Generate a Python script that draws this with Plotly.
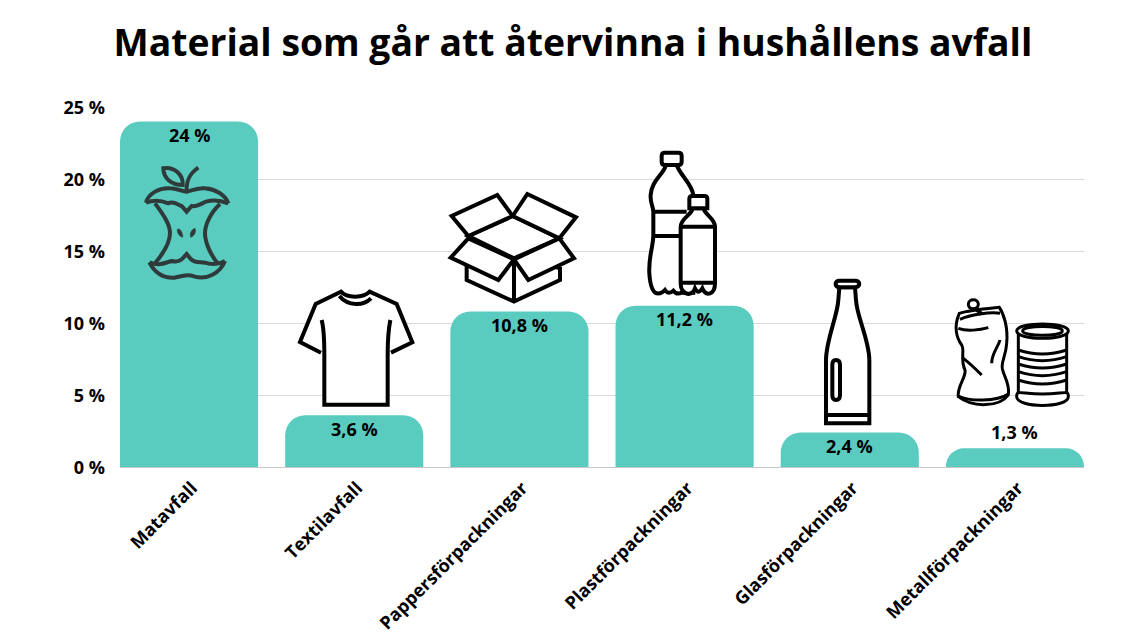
import re
import plotly.graph_objects as go

categories = ["Matavfall", "Textilavfall", "Pappersförpackningar", "Plastförpackningar", "Glasförpackningar", "Metallförpackningar"]
values = [24, 3.6, 10.8, 11.2, 2.4, 1.3]
value_labels = ["24 %", "3,6 %", "10,8 %", "11,2 %", "2,4 %", "1,3 %"]
label_above = [False, False, False, False, False, True]
y_ticks = [0, 5, 10, 15, 20, 25]
y_tick_labels = ["0 %", "5 %", "10 %", "15 %", "20 %", "25 %"]
title_text = "Material som går att återvinna i hushållens avfall"
FONT = "Open Sans"

L, T, W, H = 120, 107, 964, 360


def conv(path, ox, oy):
    nums = iter(re.findall(r"[A-Za-z]|-?\d+\.?\d*", path))
    out, isx = [], True
    for tok in nums:
        if tok.isalpha():
            out.append(tok)
            isx = True
        else:
            v = float(tok)
            if isx:
                out.append(f"{(ox + v / 3 - L) / W:.5f},")
            else:
                out.append(f"{(T + H - (oy + v / 3)) / H:.5f} ")
            isx = not isx
    return "".join(out)


shapes = []


def icon(origin, path, color="#000", lw=4, fill=None):
    shapes.append(dict(type="path", xref="paper", yref="paper", layer="above",
                       path=conv(path, *origin),
                       line=dict(color=color, width=lw) if lw else dict(width=0),
                       fillcolor=fill if fill else "rgba(0,0,0,0)"))


# apple core
A = (120, 110)
AC = "#2f3a3a"
for p in [
    "M78,278 C85,250 120,232 150,235 C170,236 185,243 200,245 C215,243 235,232 255,235 C285,238 315,252 325,280",
    "M78,278 C105,268 125,272 145,280 C160,272 175,285 185,288 L200,305 L215,288 C230,292 245,280 258,275 C280,268 305,272 325,280",
    "M105,280 C135,320 150,345 150,370 C150,400 130,430 105,460",
    "M300,282 C270,310 255,345 255,370 C255,400 275,440 295,462",
    "M88,457 C115,470 135,458 155,453 C170,458 185,450 188,445 L200,432 L212,447 C225,460 240,455 255,458 C275,465 300,462 315,453",
    "M88,457 C105,490 130,505 165,503 C185,498 200,492 225,500 C260,510 300,490 315,453",
    "M200,245 C198,210 210,190 235,173",
    "M130,175 C165,170 190,195 188,225 C155,225 130,205 130,175 Z",
]:
    icon(A, p, AC, 4)
icon(A, "M172,358 C180,352 190,370 188,382 C178,380 170,368 172,358 Z", AC, 0.5, AC)
icon(A, "M225,355 C230,365 222,380 212,382 C208,370 215,358 225,355 Z", AC, 0.5, AC)

# t-shirt
S = (285, 280)
icon(S, "M108,218 L45,186 L92,72 L168,35 C185,55 235,55 254,35 L335,72 L382,187 L318,218 L308,225 L308,374 L118,374 L118,225 Z", lw=0, fill="#fff")
icon(S, "M108,218 L45,186 L92,72 L168,35 C185,55 235,55 254,35 L335,72 L382,187 L318,218")
icon(S, "M163,48 C190,80 235,78 258,55")
icon(S, "M110,120 C118,150 118,190 118,225 L118,374 L308,374 L308,225 C308,190 310,150 316,120")

# box
B = (440, 140)
for p in [
    "M80,375 L80,420 L222,485 L360,420 L360,385 L222,340 Z",
    "M85,288 L218,228 L358,295 L222,355 Z",
    "M85,288 L35,228 L172,165 L218,228 Z",
    "M218,228 L262,162 L408,232 L358,295 Z",
    "M85,295 L32,353 L175,420 L222,358 Z",
    "M358,295 L402,355 L265,420 L222,358 Z",
]:
    icon(B, p, fill="#fff")
icon(B, "M222,358 L222,485")

# plastic bottles
big = "M678,75 C670,105 635,120 632,165 C630,190 640,200 640,215 L640,285 C640,320 625,350 628,400 C630,430 635,455 650,460 Q665,462 675,450 Q685,465 700,452 Q710,465 725,458 L760,458 L760,165 C755,130 720,105 710,75 Z"
icon(B, big, fill="#fff")
icon(B, "M675,38 L715,38 Q725,38 725,48 L725,65 Q725,75 715,75 L675,75 Q665,75 665,65 L665,48 Q665,38 675,38 Z", fill="#fff")
icon(B, "M640,215 L740,215")
icon(B, "M640,288 L722,288")
icon(B, "M758,205 C755,225 722,235 722,260 L722,430 C722,450 730,460 745,462 Q760,460 765,445 Q775,465 787,445 Q795,465 810,460 C825,455 825,440 825,430 L825,260 C825,235 795,225 790,205 Z", fill="#fff")
icon(B, "M757,168 L793,168 Q802,168 802,177 L802,205 L748,205 L748,177 Q748,168 757,168 Z", fill="#fff")
icon(B, "M722,260 L825,260")
icon(B, "M722,428 L825,428")

# glass bottle
G = (800, 270)
icon(G, "M118,52 L115,90 C112,140 78,210 78,270 L78,460 L208,460 L208,270 C208,210 170,140 168,90 L165,52 Z", fill="#fff")
icon(G, "M118,52 C103,50 103,32 118,32 L165,32 C182,32 182,50 165,52 Z", fill="#fff")
icon(G, "M78,435 L208,435")
icon(G, "M97,285 Q97,270 108,270 Q120,270 120,285 L120,375 Q120,390 108,390 Q97,390 97,375 Z")

# crushed can
icon(G, "M478,130 C510,120 570,115 598,112 C610,130 625,170 620,220 C618,260 600,280 608,300 C612,320 630,340 625,375 C600,410 520,415 475,380 C470,350 500,320 495,300 C480,270 495,240 485,225 C470,205 460,170 478,130 Z", lw=3, fill="#fff")
icon(G, "M475,175 C500,185 540,180 565,173", lw=3)
icon(G, "M480,148 C510,135 570,125 600,130", lw=3)
icon(G, "M575,280 C575,250 595,230 600,210", lw=3)
icon(G, "M490,265 C510,280 530,300 545,315", lw=3)
icon(G, "M475,378 C510,395 590,395 625,372", lw=3)
icon(G, "M522,112 L545,132", lw=4)
icon(G, "M505,103 C505,85 535,85 535,103 C535,121 505,121 505,103 Z", lw=3, fill="#fff")

# tin can
icon(G, "M655,190 L655,375 L800,375 L800,190 Z", lw=0, fill="#fff")
icon(G, "M655,190 L655,375", lw=3)
icon(G, "M800,190 L800,375", lw=3)
icon(G, "M650,183 C650,155 805,155 805,183 C805,212 650,212 650,183 Z", lw=3, fill="#fff")
icon(G, "M668,183 C668,165 787,165 787,183 C787,200 668,200 668,183 Z", lw=3)
for y in [240, 260, 282, 305, 330]:
    icon(G, f"M655,{y} Q727,{y + 24} 800,{y}", lw=3)
icon(G, "M650,380 C650,360 655,370 727,372 C800,370 805,360 805,380 C805,415 650,415 650,380 Z", lw=3, fill="#fff")

annotations = [
    dict(x=c, y=v, text=t, xref="x", yref="y", showarrow=False, xanchor="center", yanchor="middle",
         yshift=16 if up else -13.5, font=dict(family=FONT, size=18, color="#000", weight=700))
    for c, v, t, up in zip(categories, values, value_labels, label_above)
]

fig = go.Figure(go.Bar(
    x=categories, y=values, cliponaxis=False,
    marker=dict(color="#5accbf", line=dict(width=0), cornerradius=20), hoverinfo="skip",
))
fig.update_layout(
    width=1138, height=642, margin=dict(l=L, r=1138 - L - W, t=T, b=642 - T - H, autoexpand=False),
    paper_bgcolor="#fff", plot_bgcolor="#fff", showlegend=False, bargap=0.164,
    title=dict(text=title_text, xref="container", yref="container", x=0.5035, y=1 - 43 / 642,
               xanchor="center", yanchor="middle",
               font=dict(family=FONT, size=37.3, color="#000", weight=700)),
    shapes=shapes, annotations=annotations,
    xaxis=dict(range=[-0.418, 5.418], type="category", tickangle=-45, showgrid=False, ticks="",
               showline=False, zeroline=False, ticklabelstandoff=6, ticklabelshift=3, automargin=False,
               tickfont=dict(family=FONT, size=18, color="#000", weight=700)),
    yaxis=dict(range=[0, 25], tickvals=y_ticks, ticktext=y_tick_labels, gridcolor="#d9d9d9",
               gridwidth=1, zeroline=True, zerolinecolor="#c8c8c8", zerolinewidth=1, showline=False,
               ticks="", ticklabelstandoff=14, ticklabelshift=1, automargin=False,
               tickfont=dict(family=FONT, size=18, color="#000", weight=700)),
)
fig.write_html("out.html", post_script="document.body.style.margin='0';", config=dict(displayModeBar=False))
